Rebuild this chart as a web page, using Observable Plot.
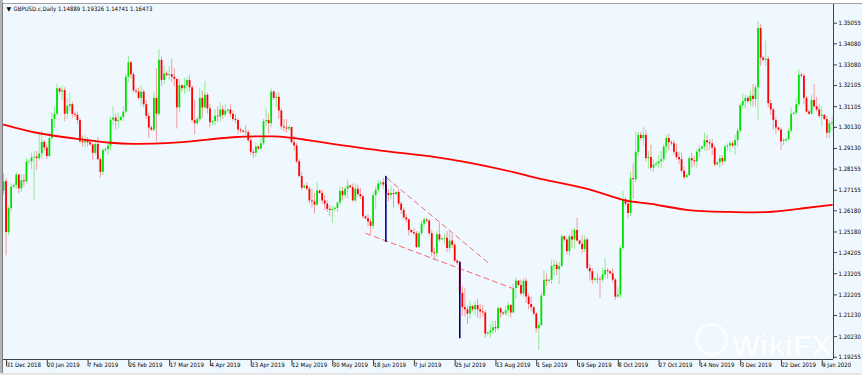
<!DOCTYPE html>
<html><head><meta charset="utf-8">
<script src="https://cdn.jsdelivr.net/npm/d3@7"></script>
<script src="https://cdn.jsdelivr.net/npm/@observablehq/plot@0.6"></script>
<style>
html,body{margin:0;padding:0;background:#fff;}
#wrap{position:relative;width:862px;height:375px;overflow:hidden;background:#F0F8FF;}
.ov{position:absolute;pointer-events:none;}
</style></head><body>
<div id="wrap"></div>
<script>
// Daily GBPUSD bars: index 0 = 31 Dec 2018 (Sunday bars included), one row per week
const open = [
1.2710,1.2755,1.2515,1.2628,
1.2730,1.2738,1.2787,1.2722,1.2760,1.2755,
1.2848,1.2850,1.2868,1.2872,1.2865,1.2887,
1.2942,1.2915,1.2875,1.2960,1.3050,1.3075,
1.3195,1.3180,1.3187,1.3075,1.3112,1.3120,
1.3074,1.3070,1.3045,1.2945,1.2940,1.2950,
1.2940,1.2930,1.2890,1.2932,1.2860,1.2800,
1.2903,1.2908,1.2925,1.3047,1.3057,1.3040,
1.3045,1.3060,1.3085,1.3250,1.3318,1.3262,
1.3185,1.3180,1.3150,1.3180,1.3120,1.3065,
1.3010,1.3000,1.3150,1.3075,1.3330,1.3235,
1.3265,1.3258,1.3262,1.3250,1.3240,1.3105,
1.3210,1.3195,1.3210,1.3235,1.3200,1.3045,
1.3030,1.3050,1.3150,1.3105,1.3165,1.3100,
1.3035,1.3040,1.3065,1.3062,1.3095,1.3070,
1.3090,1.3095,1.3075,1.3050,1.3045,1.3000,
1.2995,1.2990,1.2988,1.2950,1.2895,1.2890,
1.2920,1.2910,1.2935,1.3040,1.3045,1.3030,
1.3180,1.3150,1.3155,1.3090,1.3015,1.3010,
1.3005,1.3012,1.2940,1.2925,1.2850,1.2780,
1.2725,1.2735,1.2720,1.2665,1.2660,1.2645,
1.2712,1.2700,1.2665,1.2650,1.2625,1.2620,
1.2625,1.2630,1.2655,1.2710,1.2690,1.2720,
1.2735,1.2728,1.2665,1.2720,1.2695,1.2685,
1.2590,1.2580,1.2565,1.2545,1.2690,1.2715,
1.2745,1.2750,1.2740,1.2700,1.2690,1.2700,
1.2695,1.2705,1.2650,1.2620,1.2585,1.2575,
1.2525,1.2515,1.2510,1.2445,1.2510,1.2555,
1.2575,1.2570,1.2510,1.2420,1.2415,1.2505,
1.2480,1.2485,1.2488,1.2440,1.2475,1.2455,
1.2380,1.2370,1.2228,1.2160,1.2150,1.2130,
1.2165,1.2150,1.2170,1.2150,1.2140,1.2135,
1.2035,1.2040,1.2050,1.2065,1.2060,1.2155,
1.2135,1.2130,1.2145,1.2170,1.2135,1.2250,
1.2285,1.2265,1.2225,1.2285,1.2210,1.2175,
1.2160,1.2130,1.2060,1.2075,1.2215,1.2290,
1.2285,1.2290,1.2355,1.2360,1.2340,1.2355,
1.2495,1.2480,1.2425,1.2495,1.2480,1.2525,
1.2475,1.2460,1.2435,1.2480,1.2345,1.2330,
1.2290,1.2295,1.2292,1.2290,1.2315,1.2335,
1.2330,1.2320,1.2290,1.2210,1.2220,1.2440,
1.2670,1.2650,1.2605,1.2770,1.2765,1.2895,
1.2975,1.2960,1.2975,1.2865,1.2870,1.2820,
1.2835,1.2840,1.2850,1.2860,1.2920,1.2960,
1.2940,1.2935,1.2895,1.2870,1.2860,1.2805,
1.2775,1.2785,1.2865,1.2855,1.2850,1.2895,
1.2910,1.2920,1.2950,1.2940,1.2935,1.2915,
1.2835,1.2845,1.2865,1.2850,1.2920,1.2925,
1.2935,1.2925,1.2950,1.2995,1.3115,1.3135,
1.3150,1.3135,1.3160,1.3145,1.3200,1.3480,
1.3340,1.3330,1.3335,1.3125,1.3095,1.3045,
1.3010,1.3000,1.2945,1.2950,1.2955,1.2995,
1.3075,1.3080,1.3120,1.3260,1.3255,1.3150,
1.3085,1.3075,1.3140,1.3110,1.3095,1.3065,
1.3070,1.3050,1.2985,1.3030
];
const high = [
1.2795,1.2770,1.2640,1.2745,
1.2745,1.2800,1.2790,1.2790,1.2790,1.2867,
1.2860,1.2890,1.2900,1.2900,1.2990,1.2995,
1.2950,1.2930,1.2990,1.3080,1.3110,1.3217,
1.3200,1.3210,1.3200,1.3150,1.3175,1.3130,
1.3085,1.3085,1.3055,1.2970,1.2975,1.2965,
1.2950,1.2935,1.2950,1.2965,1.2870,1.2910,
1.2915,1.2940,1.3060,1.3110,1.3075,1.3080,
1.3065,1.3110,1.3265,1.3350,1.3325,1.3275,
1.3195,1.3200,1.3210,1.3190,1.3140,1.3080,
1.3020,1.3180,1.3290,1.3381,1.3345,1.3300,
1.3275,1.3300,1.3335,1.3290,1.3240,1.3240,
1.3215,1.3245,1.3250,1.3260,1.3210,1.3140,
1.3060,1.3195,1.3185,1.3230,1.3175,1.3120,
1.3045,1.3095,1.3110,1.3130,1.3115,1.3120,
1.3100,1.3120,1.3090,1.3075,1.3055,1.3010,
1.3000,1.3020,1.3000,1.2970,1.2910,1.2940,
1.2925,1.2960,1.3050,1.3100,1.3075,1.3195,
1.3185,1.3175,1.3175,1.3100,1.3050,1.3050,
1.3020,1.3015,1.2970,1.2935,1.2860,1.2800,
1.2740,1.2750,1.2730,1.2720,1.2700,1.2750,
1.2715,1.2715,1.2690,1.2665,1.2640,1.2640,
1.2635,1.2660,1.2730,1.2730,1.2730,1.2765,
1.2740,1.2745,1.2745,1.2740,1.2725,1.2690,
1.2595,1.2600,1.2580,1.2705,1.2730,1.2760,
1.2755,1.2770,1.2784,1.2720,1.2735,1.2720,
1.2710,1.2720,1.2660,1.2630,1.2600,1.2580,
1.2530,1.2535,1.2520,1.2520,1.2570,1.2585,
1.2580,1.2575,1.2525,1.2440,1.2520,1.2560,
1.2490,1.2510,1.2520,1.2520,1.2505,1.2465,
1.2385,1.2380,1.2260,1.2250,1.2165,1.2190,
1.2170,1.2190,1.2200,1.2175,1.2170,1.2145,
1.2045,1.2080,1.2095,1.2095,1.2165,1.2160,
1.2140,1.2165,1.2185,1.2175,1.2270,1.2300,
1.2290,1.2290,1.2295,1.2300,1.2225,1.2210,
1.2165,1.2135,1.2090,1.2235,1.2335,1.2320,
1.2295,1.2385,1.2385,1.2375,1.2375,1.2505,
1.2500,1.2485,1.2505,1.2530,1.2535,1.2582,
1.2480,1.2500,1.2500,1.2490,1.2365,1.2345,
1.2300,1.2320,1.2305,1.2345,1.2395,1.2345,
1.2335,1.2345,1.2300,1.2255,1.2450,1.2710,
1.2680,1.2670,1.2800,1.2840,1.2990,1.2990,
1.2990,1.3012,1.3000,1.2900,1.2930,1.2860,
1.2850,1.2880,1.2900,1.2935,1.2975,1.2980,
1.2950,1.2950,1.2935,1.2895,1.2890,1.2825,
1.2790,1.2875,1.2890,1.2875,1.2910,1.2925,
1.2925,1.2985,1.2975,1.2955,1.2955,1.2925,
1.2850,1.2880,1.2880,1.2930,1.2935,1.2945,
1.2945,1.2975,1.3010,1.3125,1.3170,1.3165,
1.3160,1.3185,1.3215,1.3215,1.3514,1.3500,
1.3350,1.3420,1.3345,1.3140,1.3105,1.3060,
1.3015,1.3010,1.2960,1.2960,1.3010,1.3105,
1.3085,1.3150,1.3285,1.3270,1.3265,1.3160,
1.3095,1.3165,1.3215,1.3155,1.3120,1.3110,
1.3075,1.3065,1.3045,1.3060
];
const low = [
1.2690,1.2405,1.2500,1.2610,
1.2722,1.2720,1.2700,1.2705,1.2730,1.2745,
1.2835,1.2812,1.2670,1.2810,1.2855,1.2860,
1.2900,1.2860,1.2870,1.2950,1.3010,1.3065,
1.3170,1.3140,1.3040,1.3050,1.3085,1.3055,
1.3060,1.3025,1.2935,1.2920,1.2915,1.2920,
1.2925,1.2855,1.2880,1.2855,1.2773,1.2785,
1.2895,1.2880,1.2900,1.3020,1.3000,1.3005,
1.3040,1.3040,1.3075,1.3225,1.3240,1.3175,
1.3170,1.3140,1.3110,1.3105,1.3050,1.2960,
1.2995,1.2990,1.2945,1.3065,1.3205,1.3215,
1.3250,1.3235,1.3225,1.3205,1.3005,1.3080,
1.3180,1.3170,1.3180,1.3180,1.3035,1.2977,
1.3020,1.3035,1.3055,1.3100,1.3075,1.3010,
1.3020,1.3020,1.3035,1.3040,1.3050,1.3060,
1.3080,1.3060,1.3040,1.3030,1.2980,1.2985,
1.2985,1.2975,1.2940,1.2880,1.2866,1.2870,
1.2905,1.2900,1.2925,1.3015,1.2980,1.3010,
1.3140,1.3105,1.3050,1.3000,1.2990,1.2985,
1.2995,1.2935,1.2900,1.2840,1.2775,1.2715,
1.2720,1.2710,1.2650,1.2630,1.2605,1.2640,
1.2695,1.2650,1.2620,1.2610,1.2590,1.2558,
1.2615,1.2610,1.2640,1.2665,1.2675,1.2675,
1.2720,1.2660,1.2655,1.2680,1.2670,1.2580,
1.2575,1.2540,1.2506,1.2530,1.2625,1.2700,
1.2735,1.2720,1.2690,1.2660,1.2670,1.2630,
1.2690,1.2640,1.2600,1.2575,1.2560,1.2500,
1.2510,1.2500,1.2440,1.2440,1.2500,1.2540,
1.2560,1.2500,1.2400,1.2382,1.2395,1.2470,
1.2475,1.2460,1.2420,1.2420,1.2440,1.2375,
1.2360,1.2220,1.2120,1.2115,1.2080,1.2105,
1.2140,1.2120,1.2110,1.2105,1.2115,1.2015,
1.2025,1.2015,1.2035,1.2040,1.2050,1.2110,
1.2120,1.2120,1.2120,1.2110,1.2130,1.2200,
1.2260,1.2215,1.2210,1.2180,1.2150,1.2140,
1.2120,1.2040,1.1958,1.2070,1.2210,1.2260,
1.2275,1.2270,1.2310,1.2310,1.2270,1.2350,
1.2470,1.2410,1.2400,1.2440,1.2435,1.2470,
1.2455,1.2415,1.2420,1.2335,1.2285,1.2270,
1.2280,1.2270,1.2205,1.2280,1.2295,1.2295,
1.2315,1.2275,1.2195,1.2205,1.2205,1.2430,
1.2640,1.2580,1.2590,1.2675,1.2750,1.2875,
1.2950,1.2925,1.2850,1.2815,1.2805,1.2800,
1.2825,1.2815,1.2820,1.2845,1.2885,1.2900,
1.2925,1.2880,1.2860,1.2835,1.2795,1.2765,
1.2770,1.2780,1.2820,1.2825,1.2820,1.2870,
1.2905,1.2900,1.2900,1.2905,1.2880,1.2825,
1.2830,1.2815,1.2830,1.2845,1.2900,1.2895,
1.2915,1.2880,1.2920,1.2985,1.3100,1.3100,
1.3125,1.3110,1.3110,1.3105,1.3045,1.3300,
1.3320,1.3300,1.3105,1.3070,1.3000,1.2980,
1.2995,1.2904,1.2925,1.2940,1.2950,1.2985,
1.3070,1.3070,1.3110,1.3245,1.3120,1.3080,
1.3070,1.3070,1.3100,1.3085,1.3055,1.3015,
1.3045,1.2960,1.2960,1.2995
];
const close = [
1.2755,1.2515,1.2628,1.2730,
1.2738,1.2787,1.2722,1.2760,1.2755,1.2848,
1.2850,1.2868,1.2872,1.2865,1.2887,1.2942,
1.2915,1.2875,1.2960,1.3050,1.3075,1.3195,
1.3180,1.3187,1.3075,1.3112,1.3120,1.3074,
1.3070,1.3045,1.2945,1.2940,1.2950,1.2940,
1.2930,1.2890,1.2932,1.2860,1.2800,1.2903,
1.2908,1.2925,1.3047,1.3057,1.3040,1.3045,
1.3060,1.3085,1.3250,1.3318,1.3262,1.3185,
1.3180,1.3150,1.3180,1.3120,1.3065,1.3010,
1.3000,1.3150,1.3075,1.3330,1.3235,1.3265,
1.3258,1.3262,1.3250,1.3240,1.3105,1.3210,
1.3195,1.3210,1.3235,1.3200,1.3045,1.3030,
1.3050,1.3150,1.3105,1.3165,1.3100,1.3035,
1.3040,1.3065,1.3062,1.3095,1.3070,1.3090,
1.3095,1.3075,1.3050,1.3045,1.3000,1.2995,
1.2990,1.2988,1.2950,1.2895,1.2890,1.2920,
1.2910,1.2935,1.3040,1.3045,1.3030,1.3180,
1.3150,1.3155,1.3090,1.3015,1.3010,1.3005,
1.3012,1.2940,1.2925,1.2850,1.2780,1.2725,
1.2735,1.2720,1.2665,1.2660,1.2645,1.2712,
1.2700,1.2665,1.2650,1.2625,1.2620,1.2625,
1.2630,1.2655,1.2710,1.2690,1.2720,1.2735,
1.2728,1.2665,1.2720,1.2695,1.2685,1.2590,
1.2580,1.2565,1.2545,1.2690,1.2715,1.2745,
1.2750,1.2740,1.2700,1.2690,1.2700,1.2695,
1.2705,1.2650,1.2620,1.2585,1.2575,1.2525,
1.2515,1.2510,1.2445,1.2510,1.2555,1.2575,
1.2570,1.2510,1.2420,1.2415,1.2505,1.2480,
1.2485,1.2488,1.2440,1.2475,1.2455,1.2380,
1.2370,1.2228,1.2160,1.2150,1.2130,1.2165,
1.2150,1.2170,1.2150,1.2140,1.2135,1.2035,
1.2040,1.2050,1.2065,1.2060,1.2155,1.2135,
1.2130,1.2145,1.2170,1.2135,1.2250,1.2285,
1.2265,1.2225,1.2285,1.2210,1.2175,1.2160,
1.2130,1.2060,1.2075,1.2215,1.2290,1.2285,
1.2290,1.2355,1.2360,1.2340,1.2355,1.2495,
1.2480,1.2425,1.2495,1.2480,1.2525,1.2475,
1.2460,1.2435,1.2480,1.2345,1.2330,1.2290,
1.2295,1.2292,1.2290,1.2315,1.2335,1.2330,
1.2320,1.2290,1.2210,1.2220,1.2440,1.2670,
1.2650,1.2605,1.2770,1.2765,1.2895,1.2975,
1.2960,1.2975,1.2865,1.2870,1.2820,1.2835,
1.2840,1.2850,1.2860,1.2920,1.2960,1.2940,
1.2935,1.2895,1.2870,1.2860,1.2805,1.2775,
1.2785,1.2865,1.2855,1.2850,1.2895,1.2910,
1.2920,1.2950,1.2940,1.2935,1.2915,1.2835,
1.2845,1.2865,1.2850,1.2920,1.2925,1.2935,
1.2925,1.2950,1.2995,1.3115,1.3135,1.3150,
1.3135,1.3160,1.3145,1.3200,1.3480,1.3340,
1.3330,1.3335,1.3125,1.3095,1.3045,1.3010,
1.3000,1.2945,1.2950,1.2955,1.2995,1.3075,
1.3080,1.3120,1.3260,1.3255,1.3150,1.3085,
1.3075,1.3140,1.3110,1.3095,1.3065,1.3070,
1.3050,1.2985,1.3030,1.3035
];

// Moving average (red curve), read at selected bars
const maBar = [0, 14, 30, 42, 51, 64, 77, 90, 106, 119, 148, 174, 200, 211, 229, 243, 254, 268, 285, 299, 313, 325];
const maVal = [1.3026, 1.2985, 1.2957, 1.2940, 1.2935, 1.2938, 1.2951, 1.2966, 1.2970, 1.2953, 1.2903, 1.2864, 1.2801, 1.2768, 1.2722, 1.2670, 1.2651, 1.2623, 1.2613, 1.2612, 1.2629, 1.2646];

// Dashed channel lines (bar, price)
const chanX1 = [150.3, 142.0];
const chanY1 = [1.2774, 1.2512];
const chanX2 = [190.4, 200.2];
const chanY2 = [1.2370, 1.2249];

// Navy vertical "pole" lines
const poleBar = [150, 179];
const poleTop = [1.2780, 1.2375];
const poleBottom = [1.2470, 1.2013];

// Axis ticks
const yTicks = [1.35055, 1.34080, 1.33080, 1.32105, 1.31105, 1.30130, 1.29130, 1.28155, 1.27155, 1.26180, 1.25180, 1.24205, 1.23205, 1.22205, 1.21230, 1.20230, 1.19255];
const xTickBars = [0, 16, 32, 48, 64, 80, 96, 112, 128, 144, 160, 176, 192, 208, 224, 240, 256, 272, 288, 304, 320];
const xTickLabels = ["31 Dec 2018", "20 Jan 2019", "7 Feb 2019", "26 Feb 2019", "17 Mar 2019", "4 Apr 2019", "23 Apr 2019", "12 May 2019", "30 May 2019", "18 Jun 2019", "7 Jul 2019", "25 Jul 2019", "13 Aug 2019", "1 Sep 2019", "19 Sep 2019", "8 Oct 2019", "27 Oct 2019", "14 Nov 2019", "3 Dec 2019", "22 Dec 2019", "9 Jan 2020"];

const headerText = "GBPUSD.c,Daily 1.14889 1.19326 1.14741 1.16473";

const X_MAX = 325.6, Y_MIN = 1.19148, Y_MAX = 1.35940;

const bars = open.map((o, i) => ({i, o, h: high[i], l: low[i], c: close[i]}));
const ma = maBar.map((b, k) => ({b, v: maVal[k]}));
const chan = chanX1.map((x, k) => ({x1: x, y1: chanY1[k], x2: chanX2[k], y2: chanY2[k]}));
const poles = poleBar.map((b, k) => ({b, t: poleTop[k], u: poleBottom[k]}));
const labelMap = new Map(xTickBars.map((b, k) => [b, xTickLabels[k]]));

const up = d => d.c >= d.o;
const FONT = "'DejaVu Sans Condensed', 'Liberation Sans', Arial, sans-serif";

const chart = Plot.plot({
  width: 862, height: 375,
  marginLeft: 3, marginRight: 29, marginTop: 4, marginBottom: 16,
  style: {background: "#F0F8FF", fontFamily: FONT, fontSize: "6px", color: "#000", overflow: "visible"},
  x: {domain: [0, X_MAX], axis: null},
  y: {domain: [Y_MIN, Y_MAX], axis: null},
  marks: [
    // watermark
    Plot.text(["WikiFX"], {frameAnchor: "bottom-right", dx: -2, dy: -4, lineAnchor: "bottom", textAnchor: "end", fontSize: 30, fontWeight: "bold", fontFamily: "'Liberation Sans', Arial, sans-serif", fill: "#fbfdff", stroke: "#e6ecf2", strokeWidth: 0.6}),
    Plot.dot([0], {frameAnchor: "bottom-right", dx: -122, dy: -20, r: 15, fill: "none", stroke: "#fbfdff", strokeWidth: 3}),
    // wicks
    Plot.ruleX(bars, {x: "i", y1: "l", y2: "h", stroke: d => up(d) ? "#93ea93" : "#f29c9c", strokeWidth: 1}),
    // bodies
    Plot.ruleX(bars, {x: "i", y1: "o", y2: "c", stroke: d => up(d) ? "#00e000" : "#ff0000", strokeWidth: 1.8}),
    // moving average
    Plot.line(ma, {x: "b", y: "v", stroke: "#ff0000", strokeWidth: 1.8, curve: "natural"}),
    // channel
    Plot.link(chan, {x1: "x1", y1: "y1", x2: "x2", y2: "y2", stroke: "#f06a6a", strokeWidth: 1, strokeDasharray: "6,3"}),
    // poles
    Plot.ruleX(poles, {x: "b", y1: "u", y2: "t", stroke: "#000080", strokeWidth: 1.6}),
    // axes lines
    Plot.ruleX([X_MAX], {stroke: "#404040", strokeWidth: 1}),
    Plot.ruleY([Y_MIN], {stroke: "#404040", strokeWidth: 1}),
    Plot.axisY(yTicks, {anchor: "right", tickSize: 3, tickPadding: 2, tickFormat: d => d.toFixed(5), fontSize: 6, stroke: "#404040"}),
    Plot.axisX(xTickBars, {anchor: "bottom", tickSize: 7, tickPadding: -4, dx: 3, textAnchor: "start", tickFormat: d => labelMap.get(d), fontSize: 6, stroke: "#404040"}),
    // header
    Plot.text(["\u25BC"], {frameAnchor: "top-left", dx: 3, dy: 2.5, lineAnchor: "top", fontSize: 6, fontFamily: "'DejaVu Sans', sans-serif", fill: "#000"}),
    Plot.text([headerText], {frameAnchor: "top-left", dx: 10, dy: 2, lineAnchor: "top", textAnchor: "start", fontSize: 6, fill: "#000"})
  ]
});
const wrap = document.getElementById("wrap");
wrap.appendChild(chart);
const addOv = (l, t, w, h, bg) => { const d = document.createElement("div"); d.className = "ov"; Object.assign(d.style, {left: l + "px", top: t + "px", width: w + "px", height: h + "px", background: bg}); wrap.appendChild(d); };
addOv(0, 0, 862, 3, "#ffffff");
addOv(0, 3, 862, 1, "#a0a0a0");
addOv(0, 0, 3, 375, "#b4b4b4");
addOv(2, 3, 1, 372, "#7a7a7a");
addOv(0, 373, 862, 2, "#e6e6e6");
</script>
</body></html>
